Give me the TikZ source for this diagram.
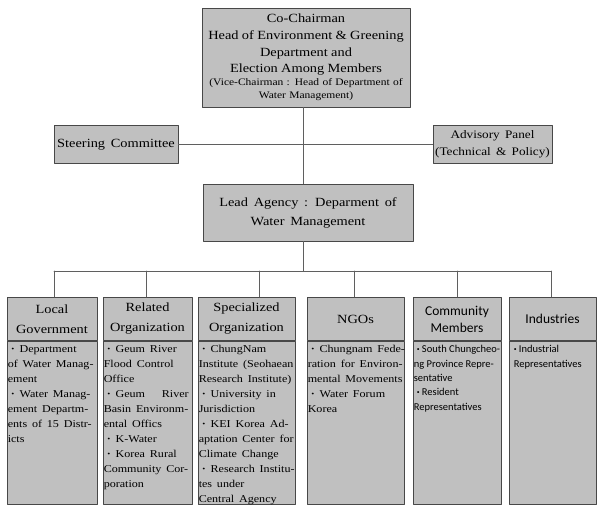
\documentclass[tikz,border=0pt]{standalone}
\usepackage{fontspec}
\setmainfont{Liberation Serif}[FakeStretch=1.15,WordSpace=1.6]
\newfontfamily\gothic{Carlito}
\usetikzlibrary{positioning}

\definecolor{boxfill}{RGB}{192,192,192}
\definecolor{boxline}{RGB}{72,72,72}
\definecolor{linkline}{RGB}{95,95,95}

\tikzset{
  box/.style={draw=boxline,fill=boxfill,line width=0.9pt,inner sep=1pt,align=center},
  link/.style={draw=linkline,line width=0.9pt},
  colhead/.style={box,anchor=north,minimum width=#1,minimum height=43pt,
    font=\fontsize{12.5}{20}\selectfont},
  gothhead/.style={colhead=#1,font=\gothic\fontsize{13.5}{17}\selectfont},
  colbody/.style={box,anchor=north,minimum width=#1,minimum height=163pt},
  bodytext/.style={anchor=north west,align=left,inner xsep=1pt,inner ysep=4.5pt,
    font=\fontsize{10.5}{15}\selectfont},
  gothtext/.style={bodytext,font=\gothic\fontsize{10.5}{14.3}\selectfont},
}
\newcommand{\bigfont}{\fontsize{12.5}{16.7}\selectfont}
\newcommand{\dotitem}{\hspace*{3pt}{\bfseries ·}\ }

\begin{document}
\begin{tikzpicture}[x=1pt,y=-1pt,line cap=round,line join=round]
\useasboundingbox (0,0) rectangle (597,508);

% upper part
\node[box,minimum width=208pt,minimum height=99pt,text width=206pt] (chair) at (306,57.5)
  {{\bigfont Co-Chairman\\Head of Environment \& Greening\\Department and\\Election Among Members\par}
   {\fontsize{10}{13}\selectfont (Vice-Chairman : Head of Department of\\Water Management)\par}};
\node[box,minimum width=124pt,minimum height=38pt,font=\bigfont] (steer) at (116,144.5) {Steering Committee};
\node[box,minimum width=119pt,minimum height=38pt,font=\fontsize{11.5}{17}\selectfont] (advise) at (492.5,144.5)
  {Advisory Panel\\(Technical \& Policy)};
\node[box,minimum width=210pt,minimum height=57pt,font=\fontsize{12.5}{19}\selectfont] (lead) at (308,212.5)
  {Lead Agency : Deparment of\\Water Management};

\coordinate (T) at (303,144.5);   % trunk crossing
\coordinate (B) at (303,271);     % bus junction
\coordinate (d1) at (54,271);
\coordinate (d2) at (146,271);
\coordinate (d3) at (259,271);
\coordinate (d4) at (354,271);
\coordinate (d5) at (457,271);
\coordinate (d6) at (551,271);

% columns
\node[colhead=90pt] (lg) at (52,297) {Local\\Government};
\node[colbody=90pt,below=0pt of lg] (lgb) {};
\node[bodytext] (lgt) at (lgb.north west)
  {\dotitem Department\\of Water Manag-\\ement\\
   \dotitem Water Manag-\\ement Departm-\\ents of 15 Distr-\\icts};

\node[colhead=89pt] (ro) at (147.5,297) {Related\\Organization};
\node[colbody=89pt,below=0pt of ro] (rob) {};
\node[bodytext] (rot) at (rob.north west)
  {\dotitem Geum River\\Flood Control\\Office\\
   \hbox to 85pt{\dotitem Geum\hfill River}\\Basin Environm-\\ental Offics\\
   \dotitem K-Water\\
   \dotitem Korea Rural\\Community Cor-\\poration};

\node[colhead=97pt] (so) at (246.5,297) {Specialized\\Organization};
\node[colbody=97pt,below=0pt of so] (sob) {};
\node[bodytext] (sot) at (sob.north west)
  {\dotitem ChungNam\\Institute (Seohaean\\Research Institute)\\
   \dotitem University in\\Jurisdiction\\
   \dotitem KEI Korea Ad-\\aptation Center for\\Climate Change\\
   \dotitem Research Institu-\\tes under\\Central Agency};

\node[colhead=97pt] (ngo) at (355.5,297) {NGOs};
\node[colbody=97pt,below=0pt of ngo] (ngob) {};
\node[bodytext] (ngot) at (ngob.north west)
  {\dotitem Chungnam Fede-\\ration for Environ-\\mental Movements\\
   \dotitem Water Forum\\Korea};

\node[gothhead=88pt] (cm) at (457,297) {Community\\Members};
\node[colbody=88pt,below=0pt of cm] (cmb) {};
\node[gothtext] (cmt) at (cmb.north west)
  {\dotitem South Chungcheo-\\ng Province Repre-\\sentative\\
   \dotitem Resident\\Representatives};

\node[gothhead=87pt] (ind) at (552.5,297) {Industries};
\node[colbody=87pt,below=0pt of ind] (indb) {};
\node[gothtext,inner xsep=5pt] (indt) at (indb.north west)
  {{\bfseries ·} Industrial\\Representatives};

% connectors
\draw[link] (chair.south -| T) -- (lead.north -| T);
\draw[link] (steer) -- (advise);
\draw[link] (lead.south -| B) -- (B);
\draw[link] (d1) -- (d6);
\draw[link] (d1) -- (d1 |- lg.north);
\draw[link] (d2) -- (d2 |- ro.north);
\draw[link] (d3) -- (d3 |- so.north);
\draw[link] (d4) -- (d4 |- ngo.north);
\draw[link] (d5) -- (d5 |- cm.north);
\draw[link] (d6) -- (d6 |- ind.north);
\end{tikzpicture}
\end{document}
